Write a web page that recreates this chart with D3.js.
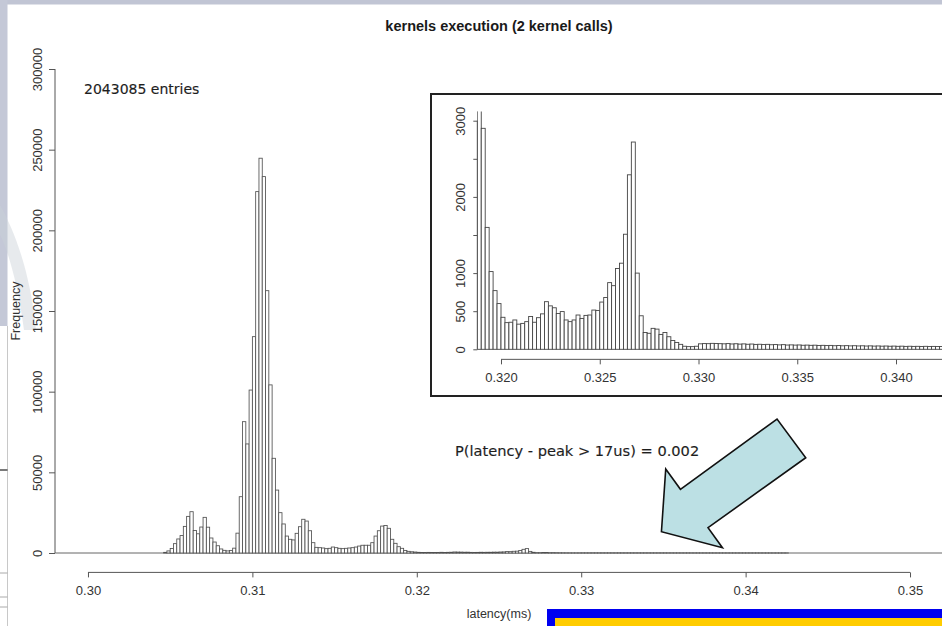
<!DOCTYPE html>
<html>
<head>
<meta charset="utf-8">
<script src="https://cdn.jsdelivr.net/npm/d3@7"></script>
<style>
  html, body { margin: 0; padding: 0; background: #ffffff; }
  svg { display: block; }
  text { font-family: "Liberation Sans", Arial, Helvetica, sans-serif; }
</style>
</head>
<body>
<div id="chart"></div>
<script>
// ---------------- DATA ----------------
const titleText = "kernels execution (2 kernel calls)";
const xLabelText = "latency(ms)";
const yLabelText = "Frequency";
const entriesText = "2043085 entries";
const probText = "P(latency - peak > 17us) = 0.002";

// histogram bins: left edge of bin 0 and bin width (ms)
const binStart = 0.3040;
const binWidth = 0.0002;
const counts = [
  0, 0, 0, 400, 1300, 2800, 5800, 8700, 10800, 16500,
  22700, 25600, 13900, 11900, 16100, 22100, 16000, 9300, 6800, 4500,
  2500, 1650, 1300, 1600, 3000, 12300, 34900, 81400, 67600, 101000,
  134100, 224000, 244700, 233300, 162600, 104200, 58700, 39000, 25000, 18000,
  10500, 8500, 8100, 12200, 16300, 20900, 19800, 13800, 6400, 3500,
  3300, 3100, 2700, 2900, 3700, 3300, 2900, 2700, 2900, 3100,
  3300, 3700, 4300, 4800, 4800, 4800, 6400, 10500, 13800, 16700,
  17000, 15300, 8500, 6000, 3900, 2900, 1600, 1020, 770, 600,
  420, 350, 355, 385, 330, 340, 363, 430, 355, 415,
  465, 625, 570, 545, 470, 495, 385, 363, 385, 450,
  405, 445, 450, 515, 510, 620, 680, 875, 835, 1060,
  1130, 1510, 2290, 2720, 1000, 440, 220, 210, 275, 265,
  195, 220, 165, 115, 90, 65, 40, 35, 35, 40,
  72, 75, 74, 78, 76, 74, 72, 75, 70, 73,
  68, 71, 66, 69, 64, 66, 62, 65, 60, 62,
  58, 61, 56, 58, 55, 57, 53, 55, 52, 54,
  50, 52, 49, 51, 47, 50, 46, 48, 45, 47,
  44, 46, 43, 45, 42, 44, 41, 43, 40, 42,
  39, 41, 38, 40, 38, 39, 37, 39, 36, 38,
  36, 37, 35
];

const mainXTicks = [0.30, 0.31, 0.32, 0.33, 0.34, 0.35];
const mainYTicks = [0, 50000, 100000, 150000, 200000, 250000, 300000];
const insetXTicks = [0.320, 0.325, 0.330, 0.335, 0.340];
const insetYTicks = [0, 500, 1000, 1500, 2000, 2500, 3000];
const insetYLabeled = [0, 500, 1000, 2000, 3000];

// annotation arrow: tip in data coords, outline offsets in px relative to tip
const arrowTip = { x: 0.33488, y: 13200 };
const arrowShape = [[0,0],[4.3,-62.7],[19,-42.4],[115.6,-112.7],[144.3,-74],[46.6,-4],[61,16]];

// ---------------- DRAW ----------------
const W = 942, H = 626;
const svg = d3.select("#chart").append("svg").attr("width", W).attr("height", H);

// screenshot frame decorations
svg.append("rect").attr("x", 0).attr("y", 0).attr("width", W).attr("height", 4.5).attr("fill", "#c1c5d4");
svg.append("rect").attr("x", 0).attr("y", 0).attr("width", 7.5).attr("height", 326).attr("fill", "#c4c8d7");
svg.append("path").attr("d", "M0,205 C14,230 30,270 36,330 L24,330 C18,285 8,250 0,235 Z")
  .attr("fill", "#c9d0d8").attr("opacity", 0.45);
svg.append("line").attr("x1", 7.5).attr("x2", 7.5).attr("y1", 326).attr("y2", H).attr("stroke", "#c8c8c8").attr("stroke-width", 1);
svg.append("line").attr("x1", 0).attr("x2", 7.5).attr("y1", 470).attr("y2", 470).attr("stroke", "#222").attr("stroke-width", 1.2);
[573, 597, 607].forEach(yy => svg.append("line").attr("x1", 0).attr("x2", 7.5).attr("y1", yy).attr("y2", yy).attr("stroke", "#aaa").attr("stroke-width", 1));

// main scales
const xMain = d3.scaleLinear().domain([0.298, 0.352]).range([55.1, 942.9]);
const yMain = d3.scaleLinear().domain([0, 300000]).range([553, 69]);

const bins = counts.map((c, i) => ({ x0: binStart + i * binWidth, x1: binStart + (i + 1) * binWidth, c }));

const axisColor = "#555";
const labelColor = "#333";

// baseline (zero-height bins)
svg.append("line").attr("x1", xMain(0.298)).attr("x2", W).attr("y1", yMain(0)).attr("y2", yMain(0))
  .attr("stroke", "#666").attr("stroke-width", 1);

// main bars
svg.append("g").selectAll("rect").data(bins.filter(d => d.c > 0)).join("rect")
  .attr("x", d => xMain(d.x0))
  .attr("width", d => xMain(d.x1) - xMain(d.x0))
  .attr("y", d => yMain(d.c))
  .attr("height", d => yMain(0) - yMain(d.c))
  .attr("fill", "#fff").attr("stroke", "#505050").attr("stroke-width", 0.85);

// main x axis (R style)
const xAxisY = 572.4;
const gx = svg.append("g").attr("transform", `translate(0,${xAxisY})`)
  .call(d3.axisBottom(xMain).tickValues(mainXTicks).tickFormat(d3.format(".2f")).tickSize(5).tickSizeOuter(0));
gx.select(".domain").remove();
gx.append("line").attr("x1", xMain(mainXTicks[0])).attr("x2", xMain(mainXTicks[mainXTicks.length - 1]))
  .attr("stroke", axisColor);
gx.selectAll(".tick line").attr("stroke", axisColor);
gx.selectAll(".tick text").attr("fill", labelColor).attr("font-size", 13).attr("dy", 0).attr("y", 22.5)
  .attr("font-family", "Liberation Sans, Arial, sans-serif");

// main y axis
const gy = svg.append("g").attr("transform", `translate(55,0)`)
  .call(d3.axisLeft(yMain).tickValues(mainYTicks).tickFormat(d3.format("d")).tickSize(6).tickSizeOuter(0));
gy.select(".domain").remove();
gy.append("line").attr("y1", yMain(0)).attr("y2", yMain(300000)).attr("stroke", axisColor);
gy.selectAll(".tick line").attr("stroke", axisColor);
gy.selectAll(".tick text").attr("fill", labelColor).attr("font-size", 13)
  .attr("transform", "rotate(-90)").attr("x", 0).attr("y", -13.5).attr("dy", 0)
  .attr("text-anchor", "middle").attr("font-family", "Liberation Sans, Arial, sans-serif");

// titles & labels
svg.append("text").attr("x", 499).attr("y", 31).attr("text-anchor", "middle")
  .attr("font-weight", "bold").attr("font-size", 14.5).attr("fill", "#1a1a1a").text(titleText);
svg.append("text").attr("x", 499).attr("y", 618).attr("text-anchor", "middle")
  .attr("font-size", 12.5).attr("fill", labelColor).text(xLabelText);
svg.append("text").attr("transform", "translate(19.5,311) rotate(-90)").attr("text-anchor", "middle")
  .attr("font-size", 12.5).attr("fill", labelColor).text(yLabelText);
svg.append("text").attr("x", 84).attr("y", 94).attr("font-size", 14).attr("fill", "#1e1e1e")
  .attr("stroke", "#1e1e1e").attr("stroke-width", 0.15)
  .style("font-family", "DejaVu Sans, sans-serif").text(entriesText);
svg.append("text").attr("x", 455).attr("y", 456).attr("font-size", 14.6).attr("fill", "#1e1e1e")
  .attr("stroke", "#1e1e1e").attr("stroke-width", 0.15)
  .style("font-family", "DejaVu Sans, sans-serif").text(probText);

// ---------------- INSET ----------------
const inset = { left: 431, top: 94, bottom: 396 };
svg.append("rect").attr("x", inset.left).attr("y", inset.top).attr("width", W - inset.left + 10)
  .attr("height", inset.bottom - inset.top).attr("fill", "#fff").attr("stroke", "#222").attr("stroke-width", 2);

const xIn = d3.scaleLinear().domain([0.320, 0.340]).range([501, 896]);
const yIn = d3.scaleLinear().domain([0, 3000]).range([349.3, 120.7]);
const plotLeft = xIn(0.3188), plotTop = yIn(3120), plotBottom = yIn(-120);

const clip = svg.append("defs").append("clipPath").attr("id", "insetClip");
clip.append("rect").attr("x", plotLeft).attr("y", plotTop).attr("width", W - plotLeft + 20).attr("height", plotBottom - plotTop);

svg.append("g").attr("clip-path", "url(#insetClip)")
  .selectAll("rect").data(bins).join("rect")
  .attr("x", d => xIn(d.x0))
  .attr("width", d => xIn(d.x1) - xIn(d.x0))
  .attr("y", d => yIn(d.c))
  .attr("height", d => yIn(0) - yIn(d.c))
  .attr("fill", "#fff").attr("stroke", "#444").attr("stroke-width", 0.9);

// inset x axis
const gix = svg.append("g").attr("transform", `translate(0,${plotBottom + 0.9})`)
  .call(d3.axisBottom(xIn).tickValues(insetXTicks).tickFormat(d3.format(".3f")).tickSize(5).tickSizeOuter(0));
gix.select(".domain").remove();
gix.append("line").attr("x1", xIn(insetXTicks[0])).attr("x2", W)
  .attr("stroke", axisColor);
gix.selectAll(".tick line").attr("stroke", axisColor);
gix.selectAll(".tick text").attr("fill", labelColor).attr("font-size", 13).attr("dy", 0).attr("y", 23)
  .attr("font-family", "Liberation Sans, Arial, sans-serif");

// inset y axis
const giy = svg.append("g").attr("transform", `translate(${plotLeft},0)`)
  .call(d3.axisLeft(yIn).tickValues(insetYTicks)
    .tickFormat(d => insetYLabeled.includes(d) ? d3.format("d")(d) : "").tickSize(4).tickSizeOuter(0));
giy.select(".domain").remove();
giy.append("line").attr("y1", yIn(0)).attr("y2", yIn(3000)).attr("stroke", axisColor);
giy.selectAll(".tick line").attr("stroke", axisColor);
giy.selectAll(".tick text").attr("fill", labelColor).attr("font-size", 13)
  .attr("transform", "rotate(-90)").attr("x", 0).attr("y", -12.5).attr("dy", 0)
  .attr("text-anchor", "middle").attr("font-family", "Liberation Sans, Arial, sans-serif");

// ---------------- ANNOTATION ARROW ----------------
const tx = xMain(arrowTip.x), ty = yMain(arrowTip.y);
svg.append("path")
  .attr("d", d3.line()(arrowShape.map(p => [tx + p[0], ty + p[1]])) + "Z")
  .attr("fill", "#bce0e4").attr("stroke", "#111").attr("stroke-width", 1.6).attr("stroke-linejoin", "miter");

// bottom-right coloured bar (slide footer)
svg.append("rect").attr("x", 547).attr("y", 609).attr("width", W - 547).attr("height", H - 609).attr("fill", "#0000f0");
svg.append("rect").attr("x", 555).attr("y", 618).attr("width", W - 555).attr("height", H - 618).attr("fill", "#ffcc00");
</script>
</body>
</html>
